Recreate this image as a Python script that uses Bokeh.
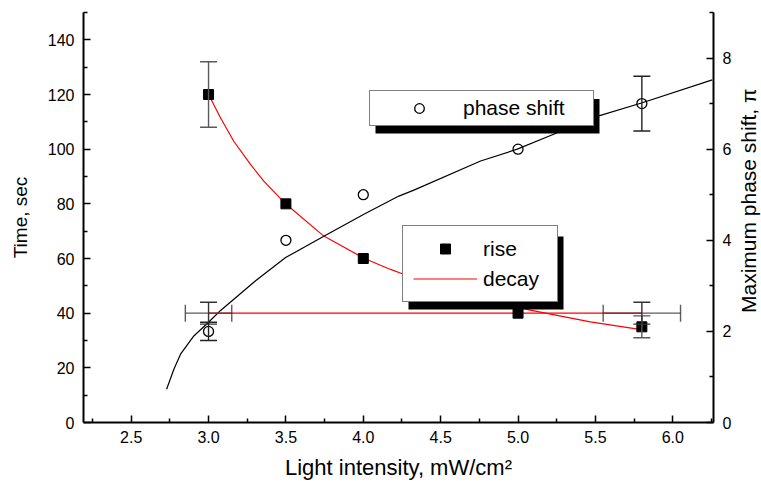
import math
from bokeh.plotting import figure
from bokeh.layouts import row
from bokeh.models import (Range1d, LinearAxis, FixedTicker, Whisker, TeeHead,
                          ColumnDataSource, Legend, LegendItem, BoxAnnotation,
                          PrintfTickFormatter, Label)
from bokeh.embed import file_html
from bokeh.resources import INLINE

# ---------------- data ----------------
rise_x = [3.0, 3.5, 4.0, 5.0, 5.8]
rise = [120, 80, 60, 40, 35]
rise_err = [12, 0, 0, 0, 4]

decay_x = [3.0, 5.8]
decay = [40, 40]
decay_yerr = [4, 4]
decay_xerr = [0.15, 0.25]

phase_x = [3.0, 3.5, 4.0, 5.0, 5.8]
phase = [2.0, 4.0, 5.0, 6.0, 7.0]
phase_err = [0.2, 0, 0, 0, 0.6]

# fitted curves
rise_fit_x = [3.0, 3.078, 3.163, 3.271, 3.357, 3.498, 3.745, 4.004, 4.176, 4.252,
              4.6, 5.079, 5.467, 5.806]
rise_fit = [120, 111.4, 102.9, 94.4, 88.3, 80, 68.2, 60.1, 56.0, 54.4,
            47.5, 41.1, 36.8, 33.9]

phase_fit_x = [2.729, 2.776, 2.819, 2.905, 3.0, 3.078, 3.304, 3.498, 3.745, 4.004,
               4.23, 4.327, 4.758, 4.995, 5.21, 5.522, 5.803, 6.255]
phase_fit = [0.73, 1.17, 1.50, 1.90, 2.20, 2.46, 3.11, 3.62, 4.09, 4.57,
             4.97, 5.10, 5.74, 6.0, 6.30, 6.73, 7.02, 7.52]

x_ticks = [2.5, 3.0, 3.5, 4.0, 4.5, 5.0, 5.5, 6.0]
x_minor = [2.25, 2.75, 3.25, 3.75, 4.25, 4.75, 5.25, 5.75, 6.25]
y_ticks = [0, 20, 40, 60, 80, 100, 120, 140]
y_minor = [10, 30, 50, 70, 90, 110, 130, 150]
y2_ticks = [0, 2, 4, 6, 8]
y2_minor = [1, 3, 5, 7, 9]

# ---------------- layout ----------------
FONT = "Liberation Sans"
X0, X1 = 2.192, 6.263
Y0, Y1 = 0, 150
FW, FH = 630, 410          # frame size in px
FL, FT = 83, 12            # frame left/top on page
FB = 68                    # bottom border
RB = 21                    # right border of main plot
SIDE_W = 27                # width of the side panel holding the right title
TOTAL_H = FT + FH + FB

p = figure(frame_width=FW, frame_height=FH, output_backend="svg", toolbar_location=None,
           x_range=Range1d(X0, X1), y_range=Range1d(Y0, Y1),
           min_border_left=FL, min_border_right=RB, min_border_top=FT,
           min_border_bottom=FB)
p.extra_y_ranges = {"phase": Range1d(0, 9)}
p.xgrid.visible = False
p.ygrid.visible = False
p.outline_line_color = None
p.background_fill_color = "white"


def style(ax, size_lab="19px"):
    ax.axis_line_width = 2
    ax.axis_line_color = "black"
    ax.major_tick_in = 7
    ax.major_tick_out = 0
    ax.minor_tick_in = 4
    ax.minor_tick_out = 0
    ax.major_tick_line_width = 1.5
    ax.minor_tick_line_width = 1.5
    ax.major_tick_line_color = "black"
    ax.minor_tick_line_color = "black"
    ax.major_label_text_font = FONT
    ax.major_label_text_font_size = "16px"
    ax.major_label_text_color = "black"
    ax.axis_label_text_font = FONT
    ax.axis_label_text_font_size = size_lab
    ax.axis_label_text_font_style = "normal"
    ax.axis_label_text_color = "black"


xa = p.xaxis[0]
xa.ticker = FixedTicker(ticks=x_ticks, minor_ticks=x_minor)
xa.formatter = PrintfTickFormatter(format="%.1f")
xa.axis_label = "Light intensity, mW/cm²"
style(xa, "22px")
xa.major_label_standoff = 8
xa.axis_label_standoff = 9

ya = p.yaxis[0]
ya.ticker = FixedTicker(ticks=y_ticks, minor_ticks=y_minor)
ya.axis_label = "Time, sec"
style(ya)
ya.major_label_standoff = 9
ya.axis_label_standoff = 14

ya2 = LinearAxis(y_range_name="phase")
ya2.ticker = FixedTicker(ticks=y2_ticks, minor_ticks=y2_minor)
style(ya2)
ya2.major_label_standoff = 9
p.add_layout(ya2, "right")


def dx(px):
    return X0 + (px - FL) / FW * (X1 - X0)


def dy(py):
    return Y0 + (FT + FH - py) / FH * (Y1 - Y0)


# ---------------- curves ----------------
p.line(rise_fit_x, rise_fit, line_color="red", line_width=1.2)
p.line(phase_fit_x, phase_fit, line_color="black", line_width=1.2, y_range_name="phase")
r_decay = p.line(decay_x, decay, line_color="red", line_width=1.2)


# ---------------- error bars ----------------
def whisk(base, lower, upper, dim, color, yr=None, width=1.4, alpha=1.0):
    src = ColumnDataSource(dict(base=base, lower=lower, upper=upper))
    kw = {}
    if yr:
        kw["y_range_name"] = yr
    w = Whisker(source=src, base="base", lower="lower", upper="upper", dimension=dim,
                line_color=color, line_width=width, line_alpha=alpha,
                upper_head=TeeHead(size=17, line_color=color, line_width=width, line_alpha=alpha),
                lower_head=TeeHead(size=17, line_color=color, line_width=width, line_alpha=alpha),
                level="glyph", **kw)
    p.add_layout(w)


rb = [x for x, e in zip(rise_x, rise_err) if e > 0]
rl = [v - e for v, e in zip(rise, rise_err) if e > 0]
ru = [v + e for v, e in zip(rise, rise_err) if e > 0]
whisk(rb, rl, ru, "height", "#5a5a5a")

whisk(decay_x, [v - e for v, e in zip(decay, decay_yerr)],
      [v + e for v, e in zip(decay, decay_yerr)], "height", "#333333")
whisk(decay, [x - e for x, e in zip(decay_x, decay_xerr)],
      [x + e for x, e in zip(decay_x, decay_xerr)], "width", "#333333", alpha=0.8)

pb = [x for x, e in zip(phase_x, phase_err) if e > 0]
pl = [v - e for v, e in zip(phase, phase_err) if e > 0]
pu = [v + e for v, e in zip(phase, phase_err) if e > 0]
whisk(pb, pl, pu, "height", "#222222", yr="phase")

# ---------------- markers ----------------
r_rise = p.scatter(rise_x, rise, marker="square", size=10, fill_color="black",
                   line_color="black")
r_phase = p.scatter(phase_x, phase, marker="circle", size=10, fill_color=None,
                    line_color="black", line_width=1.3, y_range_name="phase")

# ---------------- legends with drop shadows ----------------
for (l, r, t, b) in [(375, 599, 98.5, 133), (408, 563, 236, 309)]:
    p.add_layout(BoxAnnotation(left=dx(l), right=dx(r), top=dy(t), bottom=dy(b),
                               fill_color="black", fill_alpha=1, line_alpha=0,
                               level="annotation"))

common = dict(border_line_color="black", border_line_width=1.5,
              background_fill_color="white", background_fill_alpha=1,
              label_text_font=FONT, label_text_font_size="21px",
              label_text_color="black", margin=0)

leg1 = Legend(items=[LegendItem(label="phase shift", renderers=[r_phase])],
              location=(286, 296), padding=5, glyph_width=88, glyph_height=24,
              label_height=24, label_width=125, label_standoff=0, **common)
leg2 = Legend(items=[LegendItem(label="rise", renderers=[r_rise]),
                     LegendItem(label="decay", renderers=[r_decay])],
              location=(319, 120), padding=10, glyph_width=64, glyph_height=25,
              label_height=25, label_width=64, label_standoff=6, spacing=5, **common)
p.add_layout(leg1, "center")
p.add_layout(leg2, "center")

# ---------------- right-hand axis title in a narrow side panel ----------------
p2 = figure(width=SIDE_W, height=TOTAL_H, output_backend="svg", toolbar_location=None,
            x_range=Range1d(0, SIDE_W), y_range=Range1d(0, TOTAL_H),
            x_axis_location=None, y_axis_location=None, min_border=0)
p2.xgrid.visible = False
p2.ygrid.visible = False
p2.outline_line_color = None
p2.add_layout(Label(x=SIDE_W / 2, y=TOTAL_H - 225, text="Maximum phase shift, π",
                    angle=math.pi / 2, text_align="center", text_baseline="middle",
                    text_font=FONT, text_font_size="21px", text_color="black"))

layout = row(p, p2, spacing=0)
open("out.html", "w").write(file_html(layout, INLINE))
